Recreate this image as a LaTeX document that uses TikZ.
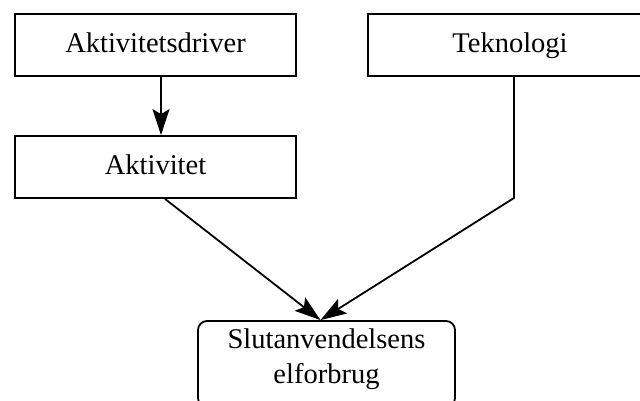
\documentclass[tikz,border=0pt]{standalone}
\usepackage{fontspec}
\setmainfont{Liberation Serif}
\usetikzlibrary{arrows.meta}
\begin{document}
\begin{tikzpicture}[x=1pt,y=-1pt,
  box/.style={draw, line width=1.8pt, inner sep=0pt, align=center,
    font=\fontsize{28.5}{35}\selectfont},
  onebox/.style={box, text height=20pt, text depth=4pt, minimum height=62pt},
  conn/.style={line width=1.8pt},
  arr/.style={conn, -{Stealth[length=26pt,width=17pt,inset=5pt]}}]
\useasboundingbox (0,0) rectangle (640,401);
\clip (0,0) rectangle (640,401);
\node[onebox, minimum width=281pt] (drv) at (155.5,45) {Aktivitetsdriver};
\node[onebox, minimum width=281pt] (act) at (155.5,167) {Aktivitet};
\node[onebox, minimum width=284pt] (tek) at (510,45) {Teknologi};
\node[box, rounded corners=9pt, minimum width=257pt, minimum height=86pt] (bot) at (326.5,364) {Slutanvendelsens\\elforbrug\rule[-16pt]{0pt}{0pt}};
\coordinate (bend) at (514,198);
\draw[arr] ([xshift=5.5pt]drv.south) -- ([xshift=5.5pt]act.north);
\draw[arr] ([xshift=9.5pt]act.south) -- ([xshift=-6pt]bot.north);
\draw[arr] ([xshift=4pt]tek.south) -- (bend) -- ([xshift=-6pt]bot.north);
\end{tikzpicture}
\end{document}
